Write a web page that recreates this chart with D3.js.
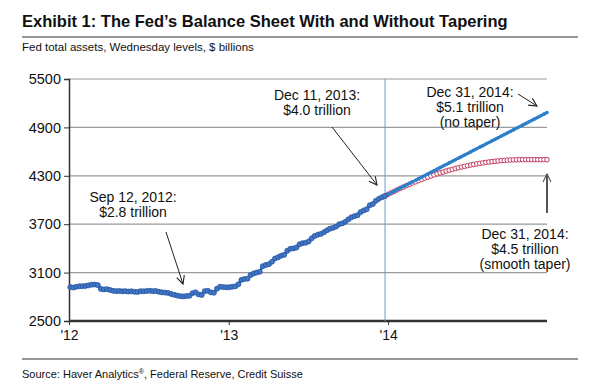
<!DOCTYPE html>
<html>
<head>
<meta charset="utf-8">
<script src="https://cdn.jsdelivr.net/npm/d3@7"></script>
<style>
  body { margin: 0; background: #fff; }
  text { font-family: "Liberation Sans", Arial, sans-serif; fill: #111; }
</style>
</head>
<body>
<script>
// Fed total assets, Wednesday levels, $ billions

// weekly history, Jan 4 2012 .. Dec 25 2013
var histStart = new Date(2012, 0, 4);
var histValues = [
  2920, 2915, 2925, 2930, 2932, 2935, 2942, 2950, 2952, 2945,
  2898, 2892, 2895, 2885, 2875, 2870, 2872, 2868, 2870, 2865,
  2868, 2862, 2860, 2870, 2868, 2872, 2875, 2870, 2872, 2862,
  2855, 2852, 2848, 2835, 2825, 2815, 2808, 2805, 2810, 2812,
  2845, 2855, 2830, 2822, 2870, 2875, 2855, 2850, 2900, 2925,
  2920, 2918,
  2918, 2925, 2930, 2955, 3010, 3020, 3025, 3070, 3090, 3100,
  3110, 3180, 3195, 3205, 3235, 3275, 3290, 3310, 3320, 3370,
  3395, 3400, 3410, 3450, 3465, 3470, 3485, 3525, 3555, 3570,
  3580, 3600, 3625, 3645, 3655, 3670, 3700, 3710, 3730, 3760,
  3785, 3800, 3810, 3850, 3870, 3885, 3935, 3950, 3990, 4015,
  4035, 4050
];

// weekly projections, Dec 25 2013 .. Dec 31 2014
var projStart = new Date(2013, 11, 25);
var noTaper = [
  4050, 4070, 4089, 4109, 4128, 4148, 4167, 4187, 4206, 4226,
  4245, 4265, 4284, 4304, 4323, 4343, 4362, 4382, 4401, 4421,
  4440, 4460, 4479, 4499, 4518, 4538, 4557, 4577, 4596, 4616,
  4635, 4655, 4674, 4694, 4713, 4733, 4752, 4772, 4791, 4811,
  4830, 4850, 4869, 4889, 4908, 4928, 4947, 4967, 4986, 5006,
  5025, 5045, 5064, 5084
];
var smoothTaper = [
  4050, 4070, 4089, 4107, 4126, 4144, 4161, 4178, 4194, 4210,
  4226, 4241, 4256, 4270, 4284, 4298, 4311, 4324, 4336, 4347,
  4359, 4370, 4380, 4390, 4400, 4409, 4417, 4426, 4434, 4441,
  4448, 4454, 4460, 4466, 4471, 4476, 4480, 4484, 4488, 4491,
  4494, 4496, 4497, 4499, 4500, 4500, 4500, 4500, 4500, 4500,
  4500, 4500, 4500, 4500
];

var yTicks = [2500, 3100, 3700, 4300, 4900, 5500];
var xTicks = [new Date(2012, 0, 1), new Date(2013, 0, 1), new Date(2014, 0, 1)];
var xTickLabels = ["'12", "'13", "'14"];

var W = 598, H = 388;
var margin = {top: 79, right: 51, bottom: 67, left: 69},
    width = W - margin.left - margin.right,
    height = H - margin.top - margin.bottom;

function weeks(start, vals) {
  return vals.map(function(v, i) {
    return {date: d3.timeDay.offset(start, i * 7), value: v};
  });
}
var histData = weeks(histStart, histValues);
var noTaperData = weeks(projStart, noTaper);
var taperData = weeks(projStart, smoothTaper);

var x = d3.scaleTime()
    .domain([new Date(2012, 0, 1), new Date(2014, 11, 31)])
    .range([0, width]);
var y = d3.scaleLinear().domain([2500, 5500]).range([height, 0]);

var root = d3.select("body").append("svg")
    .attr("width", W)
    .attr("height", H);

var defs = root.append("defs");
function arrowMarker(id, color) {
  defs.append("marker")
      .attr("id", id)
      .attr("viewBox", "0 0 10 10")
      .attr("refX", 9).attr("refY", 5)
      .attr("markerWidth", 10).attr("markerHeight", 10)
      .attr("markerUnits", "userSpaceOnUse")
      .attr("orient", "auto")
    .append("path")
      .attr("d", "M1,1 L9,5 L1,9")
      .attr("fill", "none")
      .attr("stroke", color)
      .attr("stroke-width", 1.1);
}
arrowMarker("arr", "#222");
arrowMarker("arrGray", "#555");

// title block
root.append("text")
    .attr("x", 22).attr("y", 27)
    .style("font-size", "16.5px").style("font-weight", "bold")
    .text("Exhibit 1: The Fed\u2019s Balance Sheet With and Without Tapering");
root.append("line")
    .attr("x1", 22).attr("x2", 578).attr("y1", 37).attr("y2", 37)
    .attr("stroke", "#777").attr("stroke-width", 1.5);
root.append("text")
    .attr("x", 22).attr("y", 51)
    .style("font-size", "11.5px")
    .text("Fed total assets, Wednesday levels, $ billions");

// source block
root.append("line")
    .attr("x1", 22).attr("x2", 578).attr("y1", 359).attr("y2", 359)
    .attr("stroke", "#999").attr("stroke-width", 2);
var src = root.append("text")
    .attr("x", 22).attr("y", 378)
    .style("font-size", "11px");
src.append("tspan").text("Source: Haver Analytics");
src.append("tspan").attr("dy", -4).style("font-size", "7px").text("\u00ae");
src.append("tspan").attr("dy", 4).text(", Federal Reserve, Credit Suisse");

var svg = root.append("g")
    .attr("transform", "translate(" + margin.left + "," + margin.top + ")");

// gridlines
svg.append("g")
    .selectAll("line")
    .data(yTicks.slice(1))
  .enter().append("line")
    .attr("x1", 0).attr("x2", width)
    .attr("y1", function(d) { return y(d); })
    .attr("y2", function(d) { return y(d); })
    .attr("stroke", "#9a9a9a").attr("stroke-width", 1.2);

// y axis
var yAxis = svg.append("g")
    .call(d3.axisLeft(y).tickValues(yTicks).tickSize(5).tickPadding(3).tickFormat(d3.format("d")));
yAxis.select(".domain").attr("stroke", "#333").attr("stroke-width", 1.5);
yAxis.selectAll(".tick line").attr("stroke", "#333");
yAxis.selectAll(".tick text")
    .style("font-size", "14.5px").style("font-family", "'Liberation Sans', Arial, sans-serif")
    .attr("fill", "#111");

// x axis
var xAxis = svg.append("g")
    .attr("transform", "translate(0," + height + ")")
    .call(d3.axisBottom(x).tickValues(xTicks).tickSize(4).tickPadding(5)
      .tickFormat(function(d, i) { return xTickLabels[i]; }));
xAxis.select(".domain").attr("stroke", "#333").attr("stroke-width", 2.5)
    .attr("d", "M0,0H" + width);
xAxis.selectAll(".tick line").attr("stroke", "#333");
xAxis.selectAll(".tick text")
    .style("font-size", "14px").style("font-family", "'Liberation Sans', Arial, sans-serif")
    .attr("fill", "#111");

// vertical line at end of history
var lastHist = histData[histData.length - 1];
svg.append("line")
    .attr("x1", x(lastHist.date)).attr("x2", x(lastHist.date))
    .attr("y1", 0).attr("y2", height)
    .attr("stroke", "#6b9bd6").attr("stroke-width", 1);

// smooth taper: hollow red circles
svg.append("g").selectAll("circle")
    .data(taperData)
  .enter().append("circle")
    .attr("cx", function(d) { return x(d.date); })
    .attr("cy", function(d) { return y(d.value); })
    .attr("r", 2.3)
    .attr("fill", "#fff")
    .attr("stroke", "#c23a5e")
    .attr("stroke-width", 1);

// no taper: filled blue dots
svg.append("path")
    .datum(noTaperData)
    .attr("fill", "none")
    .attr("stroke", "#2b7fcc")
    .attr("stroke-width", 3)
    .attr("d", d3.line().x(function(d) { return x(d.date); }).y(function(d) { return y(d.value); }));
svg.append("g").selectAll("circle")
    .data(noTaperData)
  .enter().append("circle")
    .attr("cx", function(d) { return x(d.date); })
    .attr("cy", function(d) { return y(d.value); })
    .attr("r", 1.8)
    .attr("fill", "#2b7fcc");

// history
svg.append("path")
    .datum(histData)
    .attr("fill", "none")
    .attr("stroke", "#2d5aa8")
    .attr("stroke-width", 2.5)
    .attr("d", d3.line().x(function(d) { return x(d.date); }).y(function(d) { return y(d.value); }));
svg.append("g").selectAll("circle")
    .data(histData)
  .enter().append("circle")
    .attr("cx", function(d) { return x(d.date); })
    .attr("cy", function(d) { return y(d.value); })
    .attr("r", 2.5)
    .attr("fill", "#3f78c8")
    .attr("stroke", "#27509c")
    .attr("stroke-width", 0.8);

// annotations (in page coordinates)
function note(lines, cx, y0) {
  var t = root.append("text")
      .attr("text-anchor", "middle")
      .style("font-size", "14px");
  lines.forEach(function(s, i) {
    t.append("tspan").attr("x", cx).attr("y", y0 + i * 15).text(s);
  });
}
function arrow(x1, y1, x2, y2, color, w) {
  root.append("line")
      .attr("x1", x1).attr("y1", y1).attr("x2", x2).attr("y2", y2)
      .attr("stroke", color).attr("stroke-width", w)
      .attr("marker-end", color === "#222" ? "url(#arr)" : "url(#arrGray)");
}

note(["Sep 12, 2012:", "$2.8 trillion"], 133, 202);
arrow(166, 232, 183, 284, "#222", 1);

note(["Dec 11, 2013:", "$4.0 trillion"], 317, 100);
arrow(332, 127, 377, 185, "#222", 1);

note(["Dec 31, 2014:", "$5.1 trillion", "(no taper)"], 470, 97);
arrow(518, 94, 537, 106, "#222", 1);

note(["Dec 31, 2014:", "$4.5 trillion", "(smooth taper)"], 525, 239);
arrow(547, 213, 547, 174, "#555", 2);
</script>
</body>
</html>
